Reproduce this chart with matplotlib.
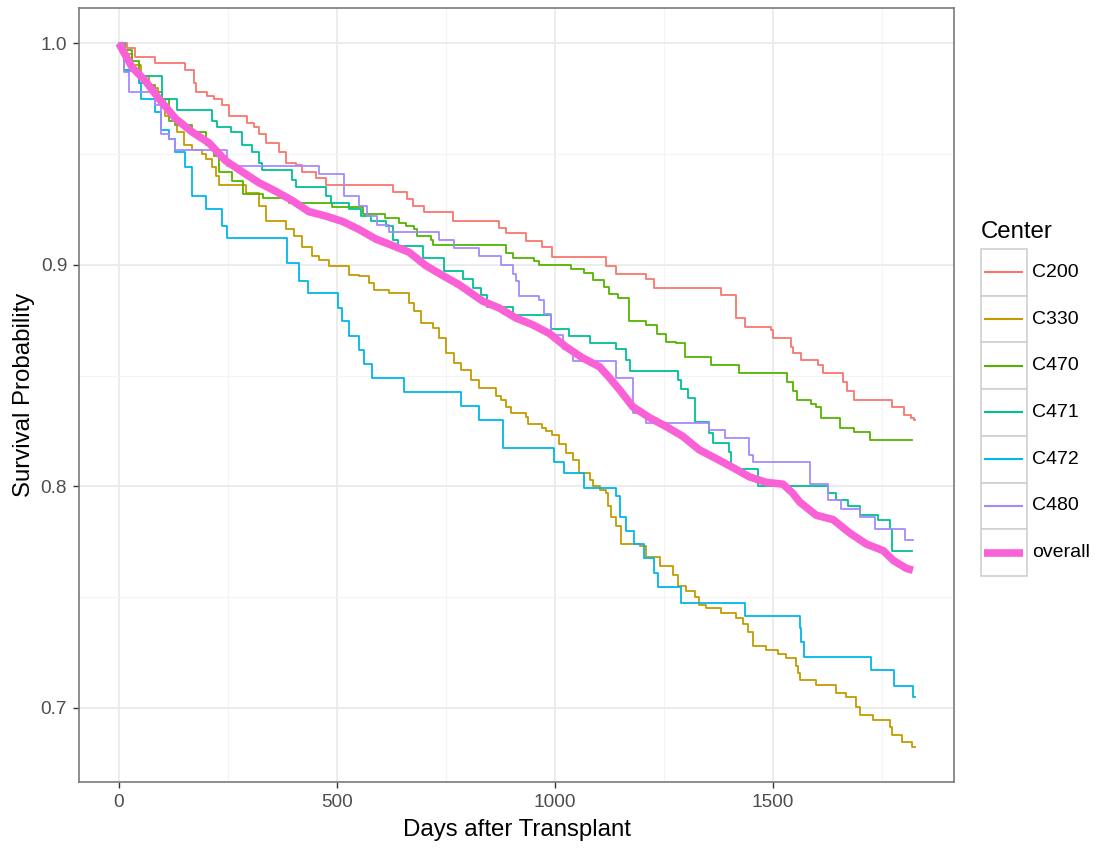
import matplotlib
matplotlib.use("Agg")
import matplotlib.pyplot as plt
from matplotlib.patches import Rectangle
from matplotlib.lines import Line2D

plt.rcParams['font.family'] = ['Liberation Sans', 'DejaVu Sans']

# ---- data: (days, survival probability) step points ----
c200 = [(0, 1.0), (19, 0.998), (37, 0.994), (84, 0.991), (153, 0.988), (172, 0.982), (176, 0.978),
        (203, 0.976), (218, 0.975), (237, 0.972), (253, 0.967), (295, 0.964), (310, 0.962), (322, 0.959),
        (337, 0.955), (368, 0.951), (383, 0.946), (406, 0.945), (421, 0.942), (452, 0.939), (475, 0.936),
        (628, 0.933), (662, 0.9295), (674, 0.9265), (701, 0.924), (766, 0.920), (873, 0.9167),
        (888, 0.9144), (934, 0.9107), (972, 0.908), (995, 0.9036), (1118, 0.8994), (1141, 0.896),
        (1210, 0.8934), (1229, 0.8896), (1382, 0.8865), (1417, 0.876), (1436, 0.872), (1497, 0.8705),
        (1501, 0.867), (1543, 0.863), (1548, 0.860), (1566, 0.857), (1604, 0.855), (1616, 0.851),
        (1662, 0.847), (1671, 0.843), (1686, 0.839), (1774, 0.836), (1801, 0.832), (1818, 0.831),
        (1824, 0.830), (1826, 0.830)]

c330 = [(0, 1.0), (10, 0.995), (30, 0.990), (50, 0.985), (70, 0.980), (90, 0.975), (107, 0.967),
        (134, 0.960), (150, 0.954), (168, 0.952), (191, 0.950), (199, 0.9476), (215, 0.944), (222, 0.940),
        (230, 0.936), (291, 0.9325), (322, 0.9265), (337, 0.920), (383, 0.916), (402, 0.913), (421, 0.908),
        (444, 0.904), (459, 0.9024), (482, 0.8994), (528, 0.8956), (551, 0.8949), (574, 0.892),
        (586, 0.8885), (620, 0.8873), (666, 0.8828), (678, 0.879), (693, 0.8738), (720, 0.8715),
        (735, 0.867), (750, 0.8602), (770, 0.8557), (785, 0.8527), (808, 0.848), (827, 0.8444),
        (865, 0.8406), (877, 0.839), (888, 0.836), (900, 0.833), (934, 0.8315), (938, 0.828),
        (972, 0.8265), (980, 0.8248), (995, 0.823), (1011, 0.819), (1026, 0.815), (1041, 0.812),
        (1057, 0.806), (1080, 0.803), (1088, 0.800), (1103, 0.7985), (1118, 0.797), (1122, 0.791),
        (1130, 0.7864), (1141, 0.782), (1153, 0.774), (1195, 0.773), (1210, 0.768), (1241, 0.764),
        (1271, 0.760), (1283, 0.755), (1302, 0.753), (1321, 0.750), (1332, 0.7465), (1347, 0.745),
        (1382, 0.7427), (1417, 0.7405), (1432, 0.738), (1443, 0.7345), (1455, 0.728), (1485, 0.7262),
        (1512, 0.7244), (1531, 0.7226), (1554, 0.719), (1558, 0.7156), (1562, 0.7126), (1600, 0.7104),
        (1646, 0.7066), (1669, 0.705), (1692, 0.7006), (1700, 0.6968), (1730, 0.6945), (1769, 0.6915),
        (1773, 0.6878), (1797, 0.6847), (1820, 0.6825), (1826, 0.6825)]

c470 = [(0, 1.0), (15, 0.997), (30, 0.992), (46, 0.982), (69, 0.981), (84, 0.978), (100, 0.975),
        (115, 0.965), (130, 0.963), (168, 0.960), (199, 0.954), (218, 0.949), (230, 0.942), (260, 0.938),
        (285, 0.932), (330, 0.930), (390, 0.928), (490, 0.926), (560, 0.923), (610, 0.921), (643, 0.919),
        (658, 0.9175), (677, 0.916), (685, 0.913), (716, 0.911), (720, 0.909), (888, 0.9054),
        (904, 0.903), (953, 0.9016), (965, 0.8998), (1038, 0.898), (1068, 0.8963), (1088, 0.893),
        (1114, 0.890), (1125, 0.887), (1145, 0.885), (1170, 0.8745), (1210, 0.873), (1236, 0.869),
        (1256, 0.865), (1279, 0.8647), (1298, 0.8586), (1359, 0.855), (1424, 0.851), (1533, 0.847),
        (1548, 0.843), (1555, 0.839), (1589, 0.837), (1600, 0.836), (1612, 0.8308), (1654, 0.8263),
        (1686, 0.8245), (1724, 0.8208), (1821, 0.8208)]

c471 = [(0, 1.0), (11, 0.988), (46, 0.985), (100, 0.975), (134, 0.970), (214, 0.965), (225, 0.962),
        (257, 0.960), (283, 0.954), (306, 0.951), (322, 0.946), (329, 0.943), (398, 0.9385), (406, 0.935),
        (475, 0.931), (486, 0.928), (528, 0.925), (555, 0.922), (578, 0.920), (613, 0.9175), (628, 0.9114),
        (640, 0.9087), (697, 0.9031), (747, 0.897), (789, 0.8934), (812, 0.8896), (831, 0.8866),
        (845, 0.881), (904, 0.8775), (991, 0.871), (1034, 0.8677), (1080, 0.8647), (1141, 0.862),
        (1164, 0.857), (1172, 0.852), (1282, 0.848), (1290, 0.844), (1305, 0.840), (1321, 0.829),
        (1355, 0.824), (1363, 0.8195), (1401, 0.8155), (1405, 0.808), (1467, 0.800), (1627, 0.797),
        (1646, 0.794), (1673, 0.7912), (1700, 0.787), (1742, 0.785), (1769, 0.781), (1775, 0.7707),
        (1821, 0.7707)]

c472 = [(0, 1.0), (11, 0.9875), (46, 0.982), (50, 0.975), (84, 0.969), (96, 0.961), (115, 0.9566),
        (130, 0.951), (153, 0.944), (168, 0.931), (199, 0.925), (237, 0.9175), (249, 0.912), (387, 0.901),
        (413, 0.8926), (433, 0.8873), (502, 0.8806), (513, 0.8745), (528, 0.868), (551, 0.8617),
        (563, 0.8552), (582, 0.849), (655, 0.8425), (785, 0.8361), (827, 0.830), (881, 0.8173),
        (999, 0.811), (1022, 0.806), (1068, 0.7992), (1141, 0.7955), (1149, 0.7864), (1164, 0.780),
        (1183, 0.774), (1206, 0.7676), (1229, 0.761), (1237, 0.7548), (1290, 0.7476), (1436, 0.7417),
        (1562, 0.736), (1566, 0.730), (1573, 0.7232), (1726, 0.717), (1779, 0.710), (1823, 0.705),
        (1826, 0.705)]

c480 = [(0, 1.0), (11, 0.987), (23, 0.978), (84, 0.972), (96, 0.959), (115, 0.957), (130, 0.952),
        (249, 0.9446), (459, 0.941), (517, 0.931), (551, 0.9265), (570, 0.922), (593, 0.918), (620, 0.915),
        (735, 0.9114), (769, 0.9077), (827, 0.9039), (877, 0.900), (904, 0.896), (911, 0.8926),
        (919, 0.886), (965, 0.884), (975, 0.878), (992, 0.8685), (1020, 0.862), (1041, 0.8565),
        (1141, 0.849), (1179, 0.833), (1210, 0.8286), (1355, 0.8256), (1390, 0.822), (1447, 0.8143),
        (1455, 0.8108), (1585, 0.801), (1627, 0.7939), (1658, 0.7897), (1700, 0.786), (1734, 0.7807),
        (1803, 0.7756), (1822, 0.7756)]

overall = [(0, 1.0), (31, 0.989), (61, 0.983), (92, 0.975), (130, 0.966), (168, 0.960), (207, 0.955),
           (245, 0.947), (283, 0.942), (322, 0.937), (360, 0.9332), (398, 0.929), (436, 0.924),
           (475, 0.922), (513, 0.9196), (551, 0.916), (590, 0.9116), (628, 0.9087), (666, 0.9057),
           (704, 0.8997), (743, 0.8952), (781, 0.891), (835, 0.8836), (873, 0.8805), (911, 0.876),
           (949, 0.873), (988, 0.869), (1026, 0.863), (1064, 0.858), (1103, 0.854), (1126, 0.849),
           (1149, 0.8436), (1179, 0.836), (1218, 0.831), (1256, 0.827), (1294, 0.8226), (1332, 0.8165),
           (1371, 0.8125), (1409, 0.8085), (1447, 0.8043), (1486, 0.8018), (1524, 0.801), (1546, 0.797),
           (1562, 0.793), (1600, 0.787), (1639, 0.785), (1677, 0.779), (1715, 0.774), (1754, 0.771),
           (1777, 0.7666), (1807, 0.763), (1822, 0.7622)]

centers = ["C200", "C330", "C470", "C471", "C472", "C480"]
center_curves = [c200, c330, c470, c471, c472, c480]
colors = ["#F8766D", "#C49A00", "#53B400", "#00C094", "#00B6EB", "#A58AFF"]
overall_color = "#FB61D7"
x_ticks = [0, 500, 1000, 1500]
y_ticks = [0.7, 0.8, 0.9, 1.0]
x_minor = [250, 750, 1250, 1750]
y_minor = [0.75, 0.85, 0.95]

# ---- figure ----
W, H = 1102, 848
fig = plt.figure(figsize=(W / 100, H / 100), dpi=100)
ax = fig.add_axes([79 / W, 1 - 782 / H, (954 - 79) / W, (782 - 8) / H])

for curve, col in zip(center_curves, colors):
    t = [p[0] for p in curve]
    s = [p[1] for p in curve]
    ax.step(t, s, where='post', color=col, lw=1.3, zorder=3)

ax.plot([p[0] for p in overall], [p[1] for p in overall], color=overall_color, lw=5.5,
        solid_capstyle='butt', solid_joinstyle='round', zorder=4)

ax.set_xlim(-91.3, 1916.3)
ax.set_ylim(0.6666, 1.0159)
ax.set_xticks(x_ticks)
ax.set_yticks(y_ticks)
ax.set_xticks(x_minor, minor=True)
ax.set_yticks(y_minor, minor=True)
ax.set_yticklabels(["0.7", "0.8", "0.9", "1.0"])
ax.grid(which='major', color='#EBEBEB', lw=1.3, zorder=0)
ax.grid(which='minor', color='#F4F4F4', lw=0.8, zorder=0)
ax.set_axisbelow(True)
ax.tick_params(which='major', length=4, width=1, color='#333333', labelcolor='#4D4D4D',
               labelsize=13.7, pad=4.5)
ax.tick_params(which='minor', length=0)
for sp in ax.spines.values():
    sp.set_color('#7a7a7a')
    sp.set_linewidth(1.2)

ax.set_xlabel("Days after Transplant", fontsize=17.3, color='black')
ax.set_ylabel("Survival Probability", fontsize=17.3, color='black')
ax.xaxis.set_label_coords(0.5, -0.048)
ax.yaxis.set_label_coords(-0.050, 0.5)

# ---- legend (drawn manually in pixel coordinates) ----
lax = fig.add_axes([0, 0, 1, 1], zorder=10)
lax.set_xlim(0, W)
lax.set_ylim(H, 0)
lax.axis('off')
lax.text(981, 232, "Center", fontsize=17.3, ha='left', va='center', color='black')
labels = centers + ["overall"]
lcolors = colors + [overall_color]
key_top, key_h = 249, 46.7
for i, (lab, col) in enumerate(zip(labels, lcolors)):
    y0 = key_top + i * key_h
    lax.add_patch(Rectangle((981, y0), 46, key_h, facecolor='white', edgecolor='#D0D0D0', lw=1.2))
    yc = y0 + key_h / 2
    lw = 5.5 if lab == "overall" else 1.5
    lax.add_line(Line2D([984, 1023], [yc, yc], color=col, lw=lw, solid_capstyle='butt'))
    lax.text(1032, yc, lab, fontsize=14, ha='left', va='center', color='black')

fig.savefig("out.png", dpi=100)
